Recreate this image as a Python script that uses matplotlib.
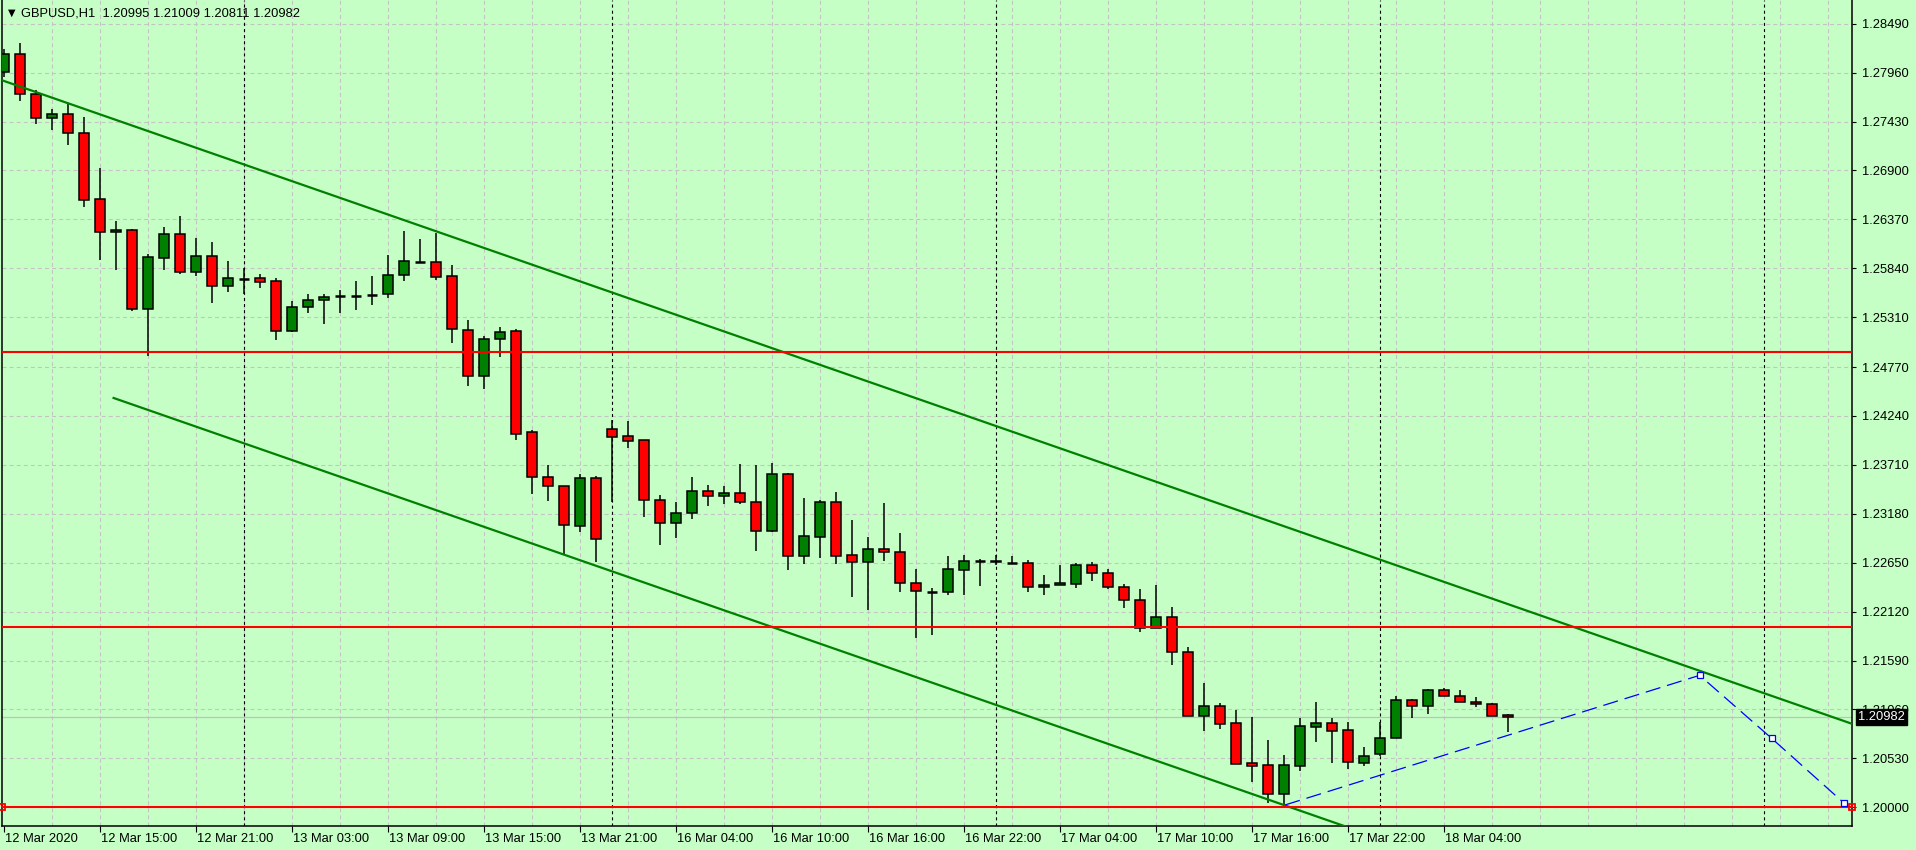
import matplotlib.pyplot as plt
import matplotlib.transforms as mtransforms
import numpy as np

plt.rcParams["font.family"] = ["Liberation Sans", "DejaVu Sans"]
plt.rcParams["lines.scale_dashes"] = False

# GBPUSD H1 bars, 12 Mar 09:00 .. 18 Mar 08:00
opens = [1.27963, 1.28158, 1.27725, 1.27472, 1.27508, 1.27302, 1.26587, 1.26230, 1.26252, 1.25396,
         1.25955, 1.26208, 1.25803, 1.25970, 1.25651, 1.25727, 1.25732, 1.25699, 1.25164, 1.25417,
         1.25500, 1.25536, 1.25537, 1.25548, 1.25557, 1.25764, 1.25912, 1.25905, 1.25756, 1.25168,
         1.24672, 1.25071, 1.25157, 1.24063, 1.23576, 1.23478, 1.23045, 1.23565, 1.24101, 1.24020,
         1.23977, 1.23326, 1.23081, 1.23186, 1.23423, 1.23370, 1.23408, 1.23308, 1.22997, 1.23608,
         1.22726, 1.22932, 1.23305, 1.22730, 1.22661, 1.22796, 1.22763, 1.22427, 1.22334, 1.22337,
         1.22575, 1.22668, 1.22672, 1.22645, 1.22644, 1.22384, 1.22413, 1.22423, 1.22630, 1.22535,
         1.22384, 1.22243, 1.21940, 1.22059, 1.21686, 1.20993, 1.21095, 1.20910, 1.20477, 1.20455,
         1.20148, 1.20451, 1.20874, 1.20910, 1.20834, 1.20483, 1.20581, 1.20748, 1.21160, 1.21101,
         1.21268, 1.21203, 1.21138, 1.21116, 1.20995]
highs = [1.28213, 1.28278, 1.27772, 1.27566, 1.27620, 1.27476, 1.26923, 1.26352, 1.26262, 1.25995,
         1.26287, 1.26407, 1.26168, 1.26125, 1.25919, 1.25843, 1.25778, 1.25732, 1.25486, 1.25558,
         1.25558, 1.25601, 1.25703, 1.25757, 1.25984, 1.26244, 1.26157, 1.26223, 1.25876, 1.25280,
         1.25106, 1.25201, 1.25182, 1.24088, 1.23706, 1.23478, 1.23608, 1.23587, 1.24196, 1.24182,
         1.23977, 1.23383, 1.23308, 1.23579, 1.23489, 1.23481, 1.23720, 1.23709, 1.23727, 1.23619,
         1.23349, 1.23327, 1.23412, 1.23113, 1.22930, 1.23297, 1.22968, 1.22581, 1.22373, 1.22723,
         1.22734, 1.22690, 1.22734, 1.22723, 1.22679, 1.22518, 1.22629, 1.22644, 1.22658, 1.22579,
         1.22416, 1.22362, 1.22406, 1.22170, 1.21734, 1.21347, 1.21127, 1.21054, 1.20978, 1.20729,
         1.20564, 1.20968, 1.21141, 1.20968, 1.20921, 1.20654, 1.20921, 1.21203, 1.21170, 1.21279,
         1.21290, 1.21268, 1.21192, 1.21127, 1.21009]
lows = [1.27916, 1.27656, 1.27403, 1.27338, 1.27176, 1.26507, 1.25930, 1.25821, 1.25381, 1.24893,
        1.25821, 1.25778, 1.25757, 1.25467, 1.25586, 1.25558, 1.25630, 1.25063, 1.25153, 1.25359,
        1.25237, 1.25359, 1.25388, 1.25442, 1.25515, 1.25706, 1.25893, 1.25712, 1.25034, 1.24568,
        1.24535, 1.24882, 1.23983, 1.23398, 1.23322, 1.22741, 1.22986, 1.22655, 1.23305, 1.23890,
        1.23149, 1.22839, 1.22921, 1.23121, 1.23268, 1.23290, 1.23283, 1.22780, 1.22986, 1.22570,
        1.22640, 1.22696, 1.22640, 1.22279, 1.22138, 1.22674, 1.22332, 1.21838, 1.21871, 1.22304,
        1.22300, 1.22394, 1.22620, 1.22634, 1.22330, 1.22300, 1.22406, 1.22380, 1.22449, 1.22362,
        1.22163, 1.21903, 1.21940, 1.21546, 1.20990, 1.20830, 1.20852, 1.20473, 1.20274, 1.20044,
        1.20014, 1.20397, 1.20712, 1.20483, 1.20419, 1.20452, 1.20556, 1.20748, 1.20971, 1.21014,
        1.21203, 1.21138, 1.21091, 1.20993, 1.20811]
closes = [1.28158, 1.27725, 1.27472, 1.27508, 1.27309, 1.26583, 1.26230, 1.26255, 1.25396, 1.25959,
          1.26208, 1.25803, 1.25970, 1.25651, 1.25732, 1.25727, 1.25695, 1.25164, 1.25417, 1.25493,
          1.25526, 1.25536, 1.25537, 1.25548, 1.25764, 1.25916, 1.25912, 1.25749, 1.25179, 1.24672,
          1.25071, 1.25146, 1.24048, 1.23576, 1.23478, 1.23056, 1.23565, 1.22904, 1.24009, 1.23966,
          1.23326, 1.23081, 1.23186, 1.23423, 1.23370, 1.23408, 1.23308, 1.22990, 1.23608, 1.22726,
          1.22937, 1.23305, 1.22726, 1.22661, 1.22796, 1.22763, 1.22429, 1.22340, 1.22334, 1.22579,
          1.22666, 1.22668, 1.22655, 1.22645, 1.22384, 1.22406, 1.22435, 1.22630, 1.22535, 1.22391,
          1.22243, 1.21940, 1.22066, 1.21686, 1.20993, 1.21095, 1.20906, 1.20473, 1.20451, 1.20148,
          1.20455, 1.20878, 1.20910, 1.20824, 1.20494, 1.20553, 1.20748, 1.21160, 1.21101, 1.21268,
          1.21203, 1.21138, 1.21116, 1.20993, 1.20982]

time_tick_idx = [0, 6, 12, 18, 24, 30, 36, 42, 48, 54, 60, 66, 72, 78, 84, 90]
time_tick_labels = ["12 Mar 2020", "12 Mar 15:00", "12 Mar 21:00", "13 Mar 03:00", "13 Mar 09:00",
                    "13 Mar 15:00", "13 Mar 21:00", "16 Mar 04:00", "16 Mar 10:00", "16 Mar 16:00",
                    "16 Mar 22:00", "17 Mar 04:00", "17 Mar 10:00", "17 Mar 16:00", "17 Mar 22:00",
                    "18 Mar 04:00"]
day_separators = [15, 38, 62, 86, 110]
price_ticks = [1.28490, 1.27960, 1.27430, 1.26900, 1.26370, 1.25840, 1.25310, 1.24770, 1.24240,
               1.23710, 1.23180, 1.22650, 1.22120, 1.21590, 1.21060, 1.20530, 1.20000]

# drawn objects
upper_line_idx = [0, 100]
upper_line_px = [1.27871, 1.21841]
lower_line_idx = [6.875, 120]
lower_line_px = [1.24435, 1.17614]
red_levels = [1.24938, 1.21957]
selected_level = 1.20000
zigzag_idx = [80.1, 106.0, 110.5, 115.0]
zigzag_px = [1.20026, 1.21430, 1.20748, 1.20050]
bid = 1.20982
header = "GBPUSD,H1  1.20995 1.21009 1.20811 1.20982"

bg = "#C6FFC6"
W, H = 1916, 850
fig = plt.figure(figsize=(W / 100, H / 100), dpi=100, facecolor=bg)
ax = fig.add_axes([2 / W, 24 / H, 1850 / W, 826 / H], facecolor=bg)

x = np.arange(len(opens))
o = np.array(opens)
h = np.array(highs)
l = np.array(lows)
c = np.array(closes)
up = c > o
dn = c < o
flat = c == o
bw = 0.62

ax.vlines(x, l, h, color="black", lw=1.1, zorder=3)
ax.bar(x[up], (c - o)[up], bottom=o[up], width=bw, color="#008000",
       edgecolor="black", lw=1.1, zorder=4)
ax.bar(x[dn], (o - c)[dn], bottom=c[dn], width=bw, color="#FF0000",
       edgecolor="black", lw=1.1, zorder=4)
ax.hlines(c[flat], x[flat] - bw / 2, x[flat] + bw / 2, color="black", lw=1.8, zorder=4)

# grid + day separators
grid_idx = np.arange(3, 116, 3)
ax.vlines(grid_idx, 0, 1, transform=ax.get_xaxis_transform(), color="#C4C4C4",
          lw=0.8, linestyle=(0, (2.9, 2.2)), zorder=1)
ax.hlines(price_ticks, 0, 1, transform=ax.get_yaxis_transform(), color="#C4C4C4",
          lw=0.8, linestyle=(0, (2.9, 2.2)), zorder=1)
ax.vlines(day_separators, 0, 1, transform=ax.get_xaxis_transform(), color="black",
          lw=0.8, linestyle=(0, (2.2, 2.2)), zorder=2)

# bid line
ax.axhline(bid, color="#C0C0C0", lw=0.9, zorder=2)

# trend channel
ax.axline((upper_line_idx[0], upper_line_px[0]), (upper_line_idx[1], upper_line_px[1]),
          color="#008000", lw=1.6, zorder=5)
ax.plot(lower_line_idx, lower_line_px, color="#008000", lw=1.6, zorder=5)

# horizontal levels
for lv in red_levels:
    ax.axhline(lv, color="#FF0000", lw=1.5, zorder=5)
ax.plot([0, 1], [selected_level, selected_level], transform=ax.get_yaxis_transform(),
        color="#FF0000", lw=1.5, marker="s", ms=4, mfc="none", mec="#FF0000", mew=1.3,
        zorder=5, clip_on=False)

# projected zigzag
ax.plot(zigzag_idx, zigzag_px, color="#0000FF", lw=0.9, linestyle=(0, (11, 5)), zorder=6)
ax.plot(zigzag_idx[1:], zigzag_px[1:], linestyle="none", marker="s", ms=4, mfc="white",
        mec="#0000FF", mew=0.9, zorder=7)

ax.set_xlim(-0.1, 115.525)
ax.set_ylim(1.197976, 1.287468)

ax.yaxis.tick_right()
ax.set_yticks(price_ticks)
ax.set_yticklabels([f"{p:.5f}" for p in price_ticks])
ax.set_xticks(time_tick_idx)
ax.set_xticklabels(time_tick_labels, ha="left")
ax.tick_params(axis="y", direction="out", length=3, width=0.8, pad=4, labelsize=9.3,
               colors="black")
ax.tick_params(axis="x", direction="out", length=4, width=0.8, pad=1, labelsize=9.3,
               colors="black")
for lab in ax.get_xticklabels():
    lab.set_transform(lab.get_transform() + mtransforms.ScaledTranslation(1 / 100, 0, fig.dpi_scale_trans))

for side in ["left", "right", "bottom"]:
    ax.spines[side].set_color("black")
    ax.spines[side].set_linewidth(1.1)
ax.spines["top"].set_visible(False)

# current price box on the price scale
ax.annotate(f"{bid:.5f}", xy=(1, bid), xycoords=("axes fraction", "data"),
            xytext=(4.5, 0), textcoords="offset points", ha="left", va="center",
            fontsize=9.3, color="white", zorder=10, annotation_clip=False,
            bbox=dict(boxstyle="square,pad=0.15", fc="black", ec="black"))

fig.text(8 / W, 1 - 13 / H, "\u25bc", family="DejaVu Sans", fontsize=7, va="center", ha="left")
fig.text(21 / W, 1 - 13 / H, header, fontsize=9.3, va="center", ha="left")

fig.savefig("out.png", dpi=100, facecolor=bg)
